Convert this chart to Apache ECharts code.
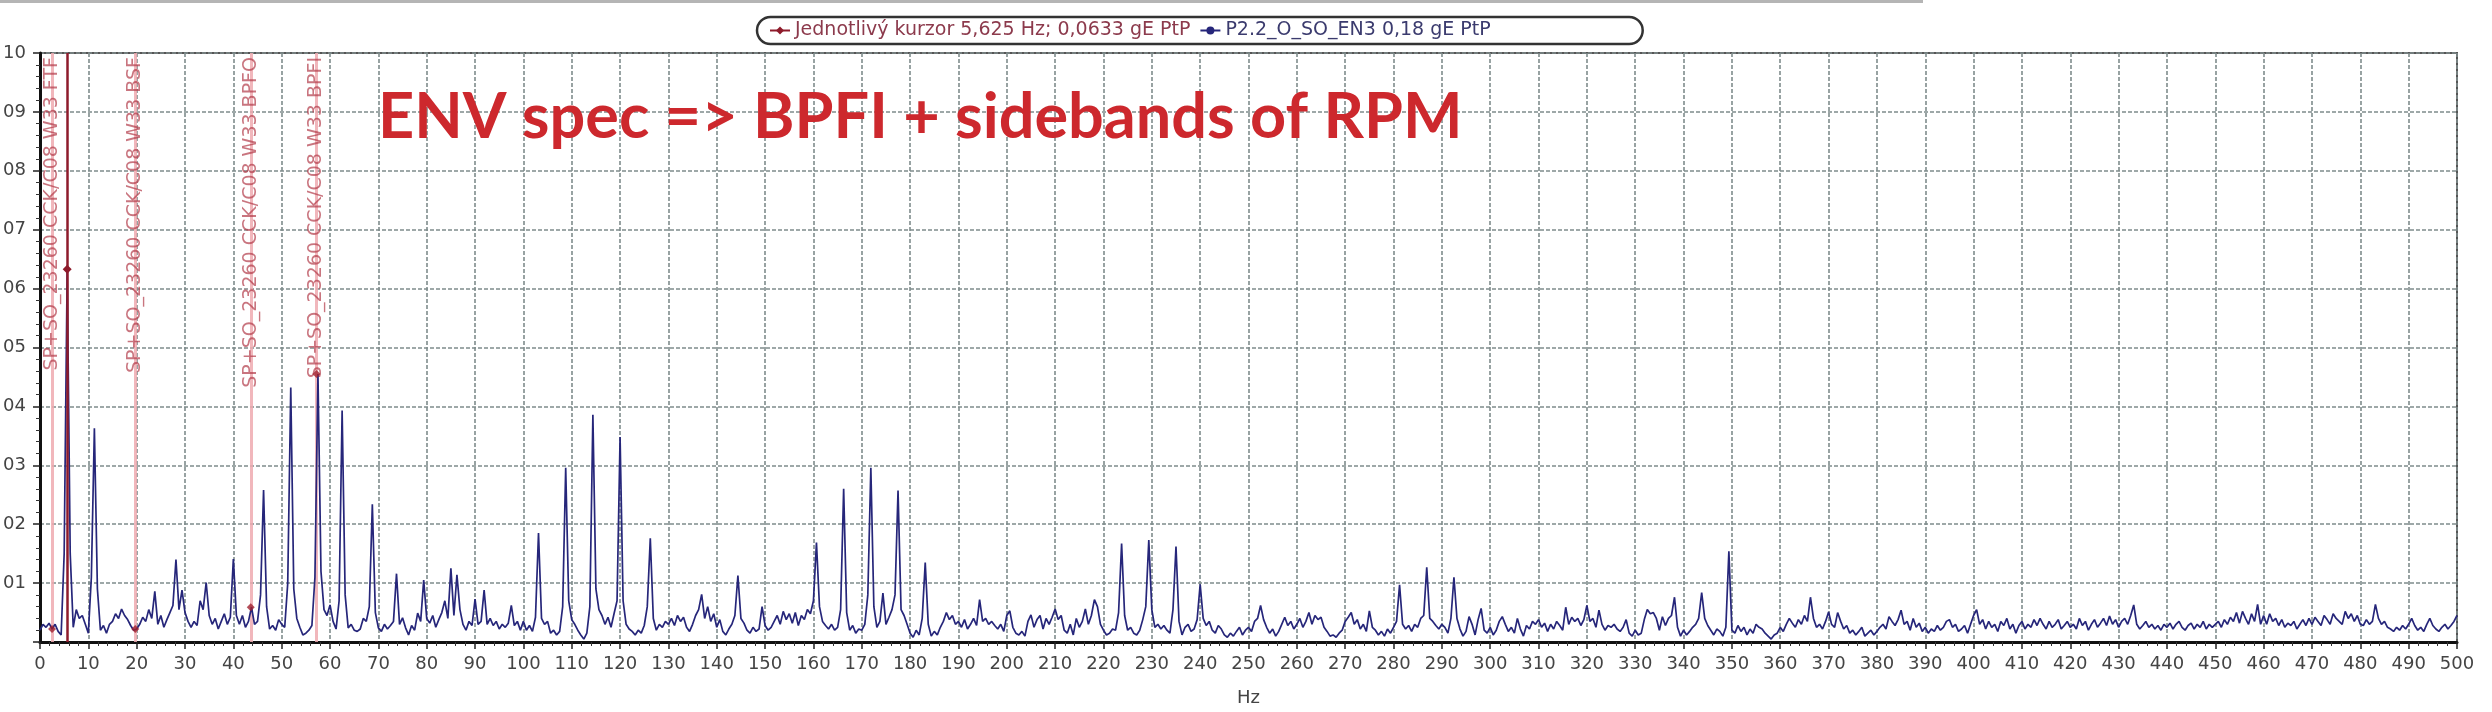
<!DOCTYPE html>
<html>
<head>
<meta charset="utf-8">
<script src="https://cdn.jsdelivr.net/npm/echarts@6/dist/echarts.min.js"></script>
<style>
html,body{margin:0;padding:0;background:#ffffff;}
#chart{width:2492px;height:712px;}
</style>
</head>
<body>
<div id="chart"></div>
<script>
// ---- data (amplitudes in units of 0.0001 gE, one value per 0.625 Hz bin) ----
const FREQ_STEP = 0.625;
const amp000 = [
 20,30,25,32,22,30,18,12,150,633,150,25,55,40,45,30,
 15,110,363,90,20,28,15,30,35,48,40,56,45,38,28,20,
 22,30,42,35,55,40,86,30,45,25,38,50,62,140,55,88,
 50,35,25,35,28,70,55,101,45,30,40,22,35,48,30,42,
 141,45,30,45,25,35,59,30,35,80,258,60,22,28,20,38,
 30,25,100,432,90,40,25,12,15,20,28,110,455,120,55,45,
 63,35,22,70,393,80,24,30,20,18,22,40,35,60,234,50,
 24,18,30,22,28,35,116,30,41,24,12,28,20,49,35,105,
 40,32,45,25,38,50,70,40,125,45,114,55,30,20,35,28,
 73,30,35,88,30,40,28,35,22,30,25,32,62,28,35,20
];
const amp100 = [
 35,20,28,18,42,185,40,30,35,15,20,12,18,60,296,70,
 38,30,20,12,5,15,60,386,90,55,45,30,42,25,48,70,
 348,70,30,22,18,12,20,15,28,60,176,40,20,30,25,35,
 30,40,28,45,35,42,25,18,30,45,55,81,40,60,35,48,
 25,38,18,12,22,30,45,113,40,32,20,15,25,18,22,60,
 28,20,25,35,45,30,52,38,48,32,50,28,45,38,55,48,
 70,169,60,35,28,22,30,20,25,55,260,50,20,28,15,22,
 20,30,80,296,60,25,35,83,30,42,55,80,257,55,45,30,
 15,8,20,12,40,135,30,10,18,12,25,35,50,38,45,30,
 35,25,38,22,30,40,28,72,35,40,30,35,28,22,30,18
];
const amp200 = [
 45,53,25,15,12,18,10,35,46,25,38,45,22,40,30,42,
 56,38,45,20,15,30,12,40,25,35,56,30,45,72,60,30,
 20,12,15,22,20,50,167,45,20,25,15,12,20,38,60,173,
 55,25,30,22,28,20,15,55,162,35,12,25,30,18,22,38,
 98,40,28,35,20,15,28,22,12,8,15,10,18,25,12,20,
 25,18,35,40,62,38,25,15,22,10,18,30,42,28,35,22,
 30,40,25,35,50,30,45,38,42,25,18,10,12,8,15,20,
 35,42,50,30,38,22,30,18,53,25,20,12,18,10,22,15,
 25,35,97,30,22,28,18,30,25,40,45,127,40,35,28,22,
 30,25,15,40,110,40,22,10,18,43,30,12,38,57,20,15
];
const amp300 = [
 25,12,20,35,43,30,18,25,15,40,22,10,28,22,35,30,
 38,25,32,18,30,22,35,28,20,59,30,42,35,40,28,38,
 62,35,40,25,54,30,20,28,25,30,22,18,25,38,15,10,
 20,12,15,38,55,48,50,40,20,43,28,40,45,76,25,10,
 20,12,18,25,30,40,84,40,28,20,12,22,18,10,25,154,
 20,15,28,18,25,12,22,15,30,25,22,15,10,5,12,15,
 25,18,30,40,32,25,38,30,45,35,76,40,25,30,22,35,
 51,30,25,50,35,22,28,15,20,12,18,25,10,15,20,12,
 18,25,30,22,43,35,28,38,54,30,35,20,40,25,32,18,
 25,15,22,18,28,20,25,35,38,25,30,18,22,28,15,30
];
const amp400 = [
 45,55,30,38,22,35,25,30,18,35,28,40,22,30,15,28,
 35,22,30,25,38,28,40,30,22,35,25,30,38,22,28,35,
 25,30,22,40,28,35,20,30,38,25,32,40,28,44,30,38,
 25,35,40,30,45,63,30,22,28,35,25,30,22,28,20,30,
 25,32,22,30,35,25,20,28,32,22,30,25,35,22,30,25,
 30,35,25,38,30,42,35,50,32,52,40,30,48,35,64,30,
 45,30,48,35,40,28,38,25,32,28,35,22,30,38,28,40,
 30,42,35,28,45,38,30,48,40,35,30,52,40,48,35,45,
 30,28,38,30,35,64,40,30,35,25,22,18,25,20,28,22,
 30,40,28,20,25,18,30,40,28,22,18,25,30,22,28,35,
 45
];

const spectrumName = 'P2.2_O_SO_EN3 0,18 gE PtP';
const cursorName = 'Jednotlivý kurzor 5,625 Hz; 0,0633 gE PtP';
const cursorFreq = 5.625;
const cursorValue = 0.0633;
const markerNames = [
  'SP+SO_23260 CCK/C08 W33 FTF',
  'SP+SO_23260 CCK/C08 W33 BSF',
  'SP+SO_23260 CCK/C08 W33 BPFO',
  'SP+SO_23260 CCK/C08 W33 BPFI'
];
const markerFreqs = [2.5, 19.7, 43.6, 57.2];
const xRange = {min: 0, max: 500, interval: 10};
const yRange = {min: 0, max: 0.1, interval: 0.01};
const annotationText = 'ENV spec => BPFI + sidebands of RPM';
const xAxisName = 'Hz';

// ---- build series data ----
const amps = amp000.concat(amp100, amp200, amp300, amp400);
const spectrum = amps.map((v, i) => [i * FREQ_STEP, v / 10000]);
const markerDots = markerFreqs.map(f => {
  const idx = Math.round(f / FREQ_STEP);
  return [f, amps[idx] / 10000];
});

const chart = echarts.init(document.getElementById('chart'), null, {renderer: 'canvas'});
const gridColor = '#7f8c8c';
const option = {
  animation: false,
  backgroundColor: '#ffffff',
  textStyle: {fontFamily: 'DejaVu Sans'},
  grid: {left: 40, right: 35, top: 53, bottom: 44, show: true, borderColor: '#555', borderWidth: 2, containLabel: false},
  legend: {
    left: 757, top: 17,
    padding: [4, 152, 4, 12],
    borderColor: '#333', borderWidth: 2.5, borderRadius: 14,
    itemGap: 9, itemWidth: 20, itemHeight: 10,
    textStyle: {fontFamily: 'DejaVu Sans', fontSize: 19},
    data: [
      {name: cursorName, textStyle: {color: '#8c3a4c'}},
      {name: spectrumName, textStyle: {color: '#3b3b6e'}}
    ]
  },
  xAxis: {
    type: 'value', min: xRange.min, max: xRange.max, interval: xRange.interval,
    name: xAxisName, nameLocation: 'middle', nameGap: 47,
    nameTextStyle: {fontSize: 18, color: '#444', fontFamily: 'DejaVu Sans'},
    axisLine: {show: true, onZero: false, lineStyle: {color: '#111', width: 3}},
    axisTick: {show: true, length: 7, lineStyle: {color: '#222', width: 1.5}},
    minorTick: {show: true, splitNumber: 5, length: 4, lineStyle: {color: '#333', width: 1}},
    axisLabel: {fontSize: 18, color: '#444', margin: 13, fontFamily: 'DejaVu Sans'},
    splitLine: {show: true, lineStyle: {color: gridColor, width: 1.6, type: [4, 2]}}
  },
  yAxis: {
    type: 'value', min: yRange.min, max: yRange.max, interval: yRange.interval,
    axisLine: {show: true, onZero: false, lineStyle: {color: '#111', width: 3}},
    axisTick: {show: true, length: 7, lineStyle: {color: '#222', width: 1.5}},
    minorTick: {show: true, splitNumber: 5, length: 4, lineStyle: {color: '#333', width: 1}},
    axisLabel: {
      fontSize: 18, color: '#444', margin: 14, fontFamily: 'DejaVu Sans',
      formatter: v => { const n = Math.round(v * 100); return n === 0 ? '' : String(n).padStart(2, '0'); }
    },
    splitLine: {show: true, lineStyle: {color: gridColor, width: 1.6, type: [4, 2]}}
  },
  series: [
    {
      name: 'markers', type: 'scatter', data: markerDots, z: 4,
      symbol: 'diamond', symbolSize: 8, itemStyle: {color: '#a0202e'},
      markLine: {
        silent: true, symbol: 'none', z: 1, animation: false,
        lineStyle: {color: '#eeaab0', width: 3, type: 'solid', opacity: 0.85},
        label: {show: true, position: 'insideEnd', formatter: '{b}', distance: 4,
                color: 'rgba(178,58,72,0.82)', fontSize: 19, fontFamily: 'DejaVu Sans'},
        emphasis: {disabled: true},
        data: markerNames.map((n, i) => ({name: n, xAxis: markerFreqs[i]}))
      }
    },
    {
      name: spectrumName, type: 'line', data: spectrum, z: 3,
      symbol: 'none', showSymbol: false,
      lineStyle: {color: '#26267a', width: 1.7},
      itemStyle: {color: '#26267a'}
    },
    {
      name: cursorName, type: 'line', data: [[cursorFreq, cursorValue]], z: 6,
      symbol: 'diamond', symbolSize: 9, showSymbol: true,
      itemStyle: {color: '#8e1b2b'}, lineStyle: {color: '#8e1b2b', width: 2},
      markLine: {
        silent: true, symbol: 'none', z: 5, animation: false,
        label: {show: false},
        lineStyle: {color: '#8e1b2b', width: 2.5, type: 'solid'},
        emphasis: {disabled: true},
        data: [{xAxis: cursorFreq}]
      }
    }
  ],
  graphic: [
    {type: 'rect', left: 0, top: 0, shape: {width: 1923, height: 3}, style: {fill: '#b5b5b5'}, silent: true},
    {type: 'text', x: 378, y: 118, silent: true, z: 10,
     style: {text: annotationText, font: 'bold 63px Lato', fill: '#cd282d', textVerticalAlign: 'middle', verticalAlign: 'middle'}}
  ]
};
chart.setOption(option);
</script>
</body>
</html>
